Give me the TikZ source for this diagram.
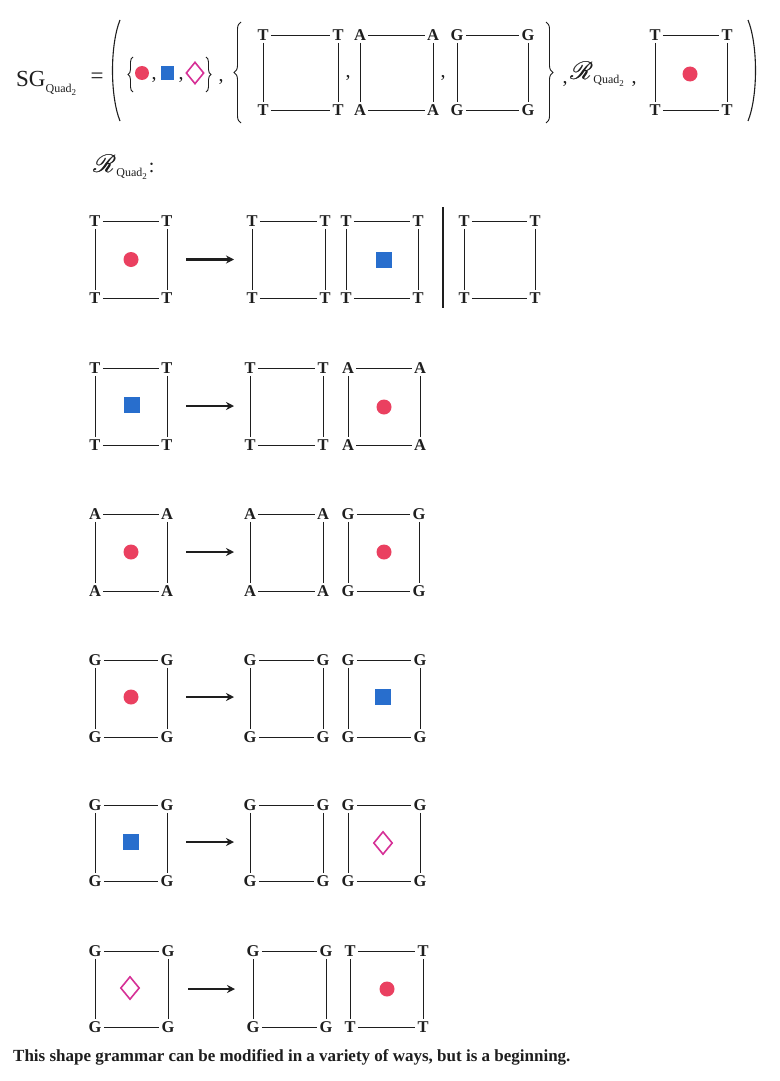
\documentclass[tikz,border=0pt]{standalone}
\usepackage{fontspec}
\setmainfont{Liberation Serif}
\usepackage{mathrsfs}
\usetikzlibrary{shapes.geometric,arrows.meta,decorations.pathreplacing}
\definecolor{dotred}{RGB}{234,64,96}
\definecolor{sqblue}{RGB}{40,110,205}
\definecolor{dmag}{RGB}{214,48,150}
\definecolor{ink}{RGB}{30,30,30}
\tikzset{
 corner/.style={font=\bfseries\fontsize{16.5}{16.5}\selectfont, inner sep=2.2pt, text=ink},
 edge/.style={draw=ink, line width=0.8pt},
 reddot/.style={circle, fill=dotred, minimum size=15pt, inner sep=0pt},
 bluesq/.style={rectangle, fill=sqblue, minimum size=16pt, inner sep=0pt},
 magdia/.style={diamond, draw=dmag, line width=1.6pt, minimum width=19pt, minimum height=23pt, inner sep=0pt},
 rulearrow/.style={draw=ink, line width=2.3pt, -{Stealth[length=8pt,width=8pt]}},
 delim/.style={draw=ink, line width=0.9pt},
 punct/.style={font=\fontsize{20}{20}\selectfont, inner sep=0pt, text=ink},
}
\newcommand\qbox[6]{%
  \node[corner] (#1tl) at (#2,#3) {#4};
  \node[corner] (#1tr) at ({#2+#5},#3) {#4};
  \node[corner] (#1bl) at (#2,{#3+#6}) {#4};
  \node[corner] (#1br) at ({#2+#5},{#3+#6}) {#4};
  \draw[edge] (#1tl) -- (#1tr);
  \draw[edge] (#1bl) -- (#1br);
  \draw[edge] (#1tl) -- (#1bl);
  \draw[edge] (#1tr) -- (#1br);
}
\newcommand\quadsub[1]{{\fontsize{#1}{#1}\selectfont Quad\raisebox{-0.25em}{\fontsize{0.75\dimexpr#1pt\relax}{1}\selectfont 2}}}
\newcommand\scriptR{{\fontsize{25}{25}\selectfont\rlap{$\mathscr{R}$}\kern0.5pt$\mathscr{R}$}}
\begin{document}
\begin{tikzpicture}[x=1pt,y=-1pt]
\path[use as bounding box, fill=white] (0,0) rectangle (779,1081);

% ---------- top formula ----------
\node[anchor=base west, inner sep=0pt, text=ink] (sg) at (16,86)
  {{\fontsize{23}{23}\selectfont SG}\raisebox{-6pt}{\quadsub{12}}};
\node[font=\fontsize{23}{23}\selectfont, text=ink] (eq) at (97,78) {=};
\coordinate (lpt) at (120,20);
\coordinate (lpb) at (120,121);
\draw[delim, line width=1.1pt] (lpt) .. controls (110,45) and (110,96) .. (lpb);
\coordinate (rpt) at (748,20);
\coordinate (rpb) at (748,121);
\draw[delim, line width=1.1pt] (rpt) .. controls (758,45) and (758,96) .. (rpb);

\coordinate (sbl1) at (133,92);
\coordinate (sbl2) at (133,57);
\draw[delim, decorate, decoration={brace, amplitude=5pt}] (sbl1) -- (sbl2);
\node[reddot, minimum size=14pt] (setdot) at (142,73) {};
\node[punct] (c1) at (154,80) {,};
\node[bluesq, minimum size=13pt] (setsq) at (167,73) {};
\node[punct] (c2) at (181,80) {,};
\node[magdia, minimum width=18pt, minimum height=22pt] (setdia) at (195,73) {};
\coordinate (sbr1) at (206,57);
\coordinate (sbr2) at (206,92);
\draw[delim, decorate, decoration={brace, amplitude=5pt}] (sbr1) -- (sbr2);
\node[punct] (c3) at (221,82) {,};

\coordinate (bbl1) at (241,123);
\coordinate (bbl2) at (241,22);
\draw[delim, decorate, decoration={brace, amplitude=7pt}] (bbl1) -- (bbl2);
\qbox{fT}{263}{35}{T}{75}{75}
\node[punct] (c4) at (348,78) {,};
\qbox{fA}{360}{35}{A}{73}{75}
\node[punct] (c5) at (443,78) {,};
\qbox{fG}{457}{35}{G}{71}{75}
\coordinate (bbr1) at (546,22);
\coordinate (bbr2) at (546,123);
\draw[delim, decorate, decoration={brace, amplitude=7pt}] (bbr1) -- (bbr2);
\node[punct] (c6) at (565,84) {,};
\node[anchor=base west, inner sep=0pt, text=ink] (rtop) at (570,79)
  {\scriptR\raisebox{-4pt}{\quadsub{12}}};
\node[punct] (c7) at (634,84) {,};
\qbox{fS}{655}{35}{T}{72}{75}
\node[reddot] (fSdot) at (690,74) {};

% ---------- rules label ----------
\node[anchor=base west, inner sep=0pt, text=ink] (rlabel) at (93,172)
  {\scriptR\raisebox{-4pt}{\quadsub{12}}\hspace{2pt}{\fontsize{20}{20}\selectfont :}};

% ---------- rule 1 ----------
\qbox{aL}{95}{221}{T}{72}{77}
\node[reddot] (aLm) at (131,259.5) {};
\coordinate (a1s) at (186,259.5);
\coordinate (a1e) at (234,259.5);
\draw[rulearrow] (a1s) -- (a1e);
\qbox{aM}{252}{221}{T}{73}{77}
\qbox{aR}{346}{221}{T}{72}{77}
\node[bluesq] (aRm) at (384,260) {};
\coordinate (bart) at (443,207);
\coordinate (barb) at (443,308);
\draw[draw=ink, line width=2.4pt] (bart) -- (barb);
\qbox{aX}{464}{221}{T}{71}{77}

% ---------- rule 2 ----------
\qbox{bL}{95}{368}{T}{72}{77}
\node[bluesq] (bLm) at (132,405) {};
\coordinate (b1s) at (186,406);
\coordinate (b1e) at (234,406);
\draw[rulearrow] (b1s) -- (b1e);
\qbox{bM}{250}{368}{T}{73}{77}
\qbox{bR}{348}{368}{A}{72}{77}
\node[reddot] (bRm) at (384,407) {};

% ---------- rule 3 ----------
\qbox{cL}{95}{514}{A}{72}{77}
\node[reddot] (cLm) at (131,552) {};
\coordinate (c1s) at (186,552);
\coordinate (c1e) at (234,552);
\draw[rulearrow] (c1s) -- (c1e);
\qbox{cM}{250}{514}{A}{73}{77}
\qbox{cR}{348}{514}{G}{71}{77}
\node[reddot] (cRm) at (384,552) {};

% ---------- rule 4 ----------
\qbox{dL}{95}{660}{G}{72}{77}
\node[reddot] (dLm) at (131,697) {};
\coordinate (d1s) at (186,697);
\coordinate (d1e) at (234,697);
\draw[rulearrow] (d1s) -- (d1e);
\qbox{dM}{250}{660}{G}{73}{77}
\qbox{dR}{348}{660}{G}{72}{77}
\node[bluesq] (dRm) at (383,697) {};

% ---------- rule 5 ----------
\qbox{eL}{95}{805}{G}{72}{76}
\node[bluesq] (eLm) at (131,842) {};
\coordinate (e1s) at (186,842);
\coordinate (e1e) at (234,842);
\draw[rulearrow] (e1s) -- (e1e);
\qbox{eM}{250}{805}{G}{73}{76}
\qbox{eR}{348}{805}{G}{72}{76}
\node[magdia] (eRm) at (383,843) {};

% ---------- rule 6 ----------
\qbox{gL}{95}{951}{G}{73}{76}
\node[magdia] (gLm) at (130,988) {};
\coordinate (g1s) at (188,989);
\coordinate (g1e) at (235,989);
\draw[rulearrow] (g1s) -- (g1e);
\qbox{gM}{253}{951}{G}{73}{76}
\qbox{gR}{350}{951}{T}{73}{76}
\node[reddot] (gRm) at (387,989) {};

% ---------- caption ----------
\node[anchor=base west, inner sep=0pt, text=ink, font=\bfseries\fontsize{17}{17}\selectfont] (caption) at (13,1061)
  {This shape grammar can be modified in a variety of ways, but is a beginning.};
\end{tikzpicture}
\end{document}
